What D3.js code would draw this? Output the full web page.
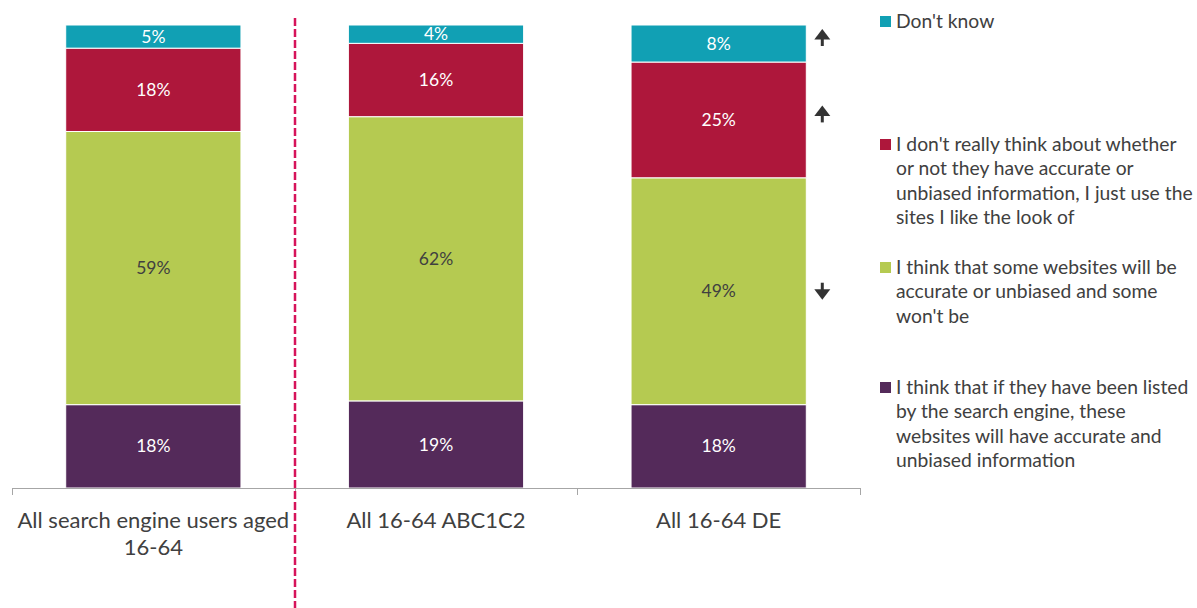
<!DOCTYPE html>
<html><head><meta charset="utf-8">
<script src="https://cdn.jsdelivr.net/npm/d3@7"></script>
<style>body{margin:0;background:#fff;}svg{display:block;font-family:Lato,"Open Sans",sans-serif;}</style>
</head><body>
<svg id="c" width="1197" height="608"></svg>
<script>
const categories = [["All search engine users aged","16-64"],["All 16-64 ABC1C2"],["All 16-64 DE"]];
const seriesKeys = ["listed","some","dontThink","dontKnow"];
const seriesLabels = {
  dontKnow: ["Don't know"],
  dontThink: ["I don't really think about whether","or not they have accurate or","unbiased information, I just use the","sites I like the look of"],
  some: ["I think that some websites will be","accurate or unbiased and some","won't be"],
  listed: ["I think that if they have been listed","by the search engine, these","websites will have accurate and","unbiased information"]
};
const listedVals = [18,19,18];
const someVals = [59,62,49];
const dontThinkVals = [18,16,25];
const dontKnowVals = [5,4,8];
const arrowsDE = {dontKnow:"up", dontThink:"up", some:"down"};
const colors = {dontKnow:"#11A0B4", dontThink:"#AE173B", some:"#B5CA51", listed:"#542A5A"};
const labelColors = {dontKnow:"#fff", dontThink:"#fff", some:"#404040", listed:"#fff"};

const data = categories.map((c,i)=>({cat:c.join(" "), listed:listedVals[i], some:someVals[i], dontThink:dontThinkVals[i], dontKnow:dontKnowVals[i]}));
const stack = d3.stack().keys(seriesKeys).offset(d3.stackOffsetExpand);
const layers = stack(data);

const svg = d3.select("#c");
const x = d3.scaleBand().domain(data.map(d=>d.cat)).range([12,860]).paddingInner(0.38).paddingOuter(0.19);
const y = d3.scaleLinear().domain([0,1]).range([488,25]);

const g = svg.append("g");
layers.forEach(layer=>{
  const key = layer.key;
  const lg = g.append("g");
  lg.selectAll("rect").data(layer).join("rect")
    .attr("x", d=>x(d.data.cat)).attr("width", x.bandwidth())
    .attr("y", d=>y(d[1])).attr("height", d=>y(d[0])-y(d[1]))
    .attr("fill", colors[key]).attr("stroke","#fff").attr("stroke-width",1);
  lg.selectAll("text").data(layer).join("text")
    .attr("x", d=>x(d.data.cat)+x.bandwidth()/2)
    .attr("y", d=>(y(d[0])+y(d[1]))/2)
    .attr("dy","0.35em").attr("text-anchor","middle")
    .attr("font-size",17.5).attr("fill",labelColors[key])
    .text(d=>d.data[key]+"%");
});

// axis
const boundaries = [12].concat(data.map(d=>x(d.cat)+x.bandwidth()+ (x.step()-x.bandwidth())/2));
svg.append("line").attr("x1",12).attr("x2",860).attr("y1",488.5).attr("y2",488.5).attr("stroke","#A6A6A6").attr("stroke-width",1);
boundaries.forEach(b=>{
  svg.append("line").attr("x1",Math.round(b)+0.5).attr("x2",Math.round(b)+0.5).attr("y1",488).attr("y2",495).attr("stroke","#A6A6A6");
});

// category labels
categories.forEach((c,i)=>{
  const cx = x(data[i].cat)+x.bandwidth()/2;
  c.forEach((line,j)=>{
    svg.append("text").attr("x",cx).attr("y",528+j*27).attr("text-anchor","middle")
      .attr("font-size",22).attr("fill","#404040").text(line);
  });
});

// dashed divider
const divX = Math.round(boundaries[1]);
svg.append("line").attr("x1",divX).attr("x2",divX).attr("y1",18).attr("y2",608)
  .attr("stroke","#D6135A").attr("stroke-width",2.5).attr("stroke-dasharray","8,3");

// arrows for DE
const de = data[2].cat;
layers.forEach(layer=>{
  const dir = arrowsDE[layer.key];
  if(!dir) return;
  const d = layer[2];
  const cy = (y(d[0])+y(d[1]))/2 - (dir==="up"?6:0);
  const ax = x(de)+x.bandwidth()+16;
  const s = dir==="up"?-1:1;
  const ag = svg.append("g").attr("fill","#333").attr("stroke","#333");
  ag.append("line").attr("x1",ax).attr("x2",ax).attr("y1",cy-8.5*s).attr("y2",cy+1*s).attr("stroke-width",3);
  ag.append("path").attr("stroke","none").attr("d",`M${ax-8},${cy-2*s} L${ax+8},${cy-2*s} L${ax},${cy+8.5*s} Z`);
});

// legend
const legendOrder = ["dontKnow","dontThink","some","listed"];
const legendTops = [21,144,267,387];
legendOrder.forEach((k,i)=>{
  const top = legendTops[i];
  svg.append("rect").attr("x",880).attr("y",top-5).attr("width",11).attr("height",11).attr("fill",colors[k]);
  seriesLabels[k].forEach((line,j)=>{
    svg.append("text").attr("x",896).attr("y",top+j*24.5).attr("dy","0.35em")
      .attr("font-size",19.3).attr("fill","#404040").text(line);
  });
});
</script>
</body></html>
